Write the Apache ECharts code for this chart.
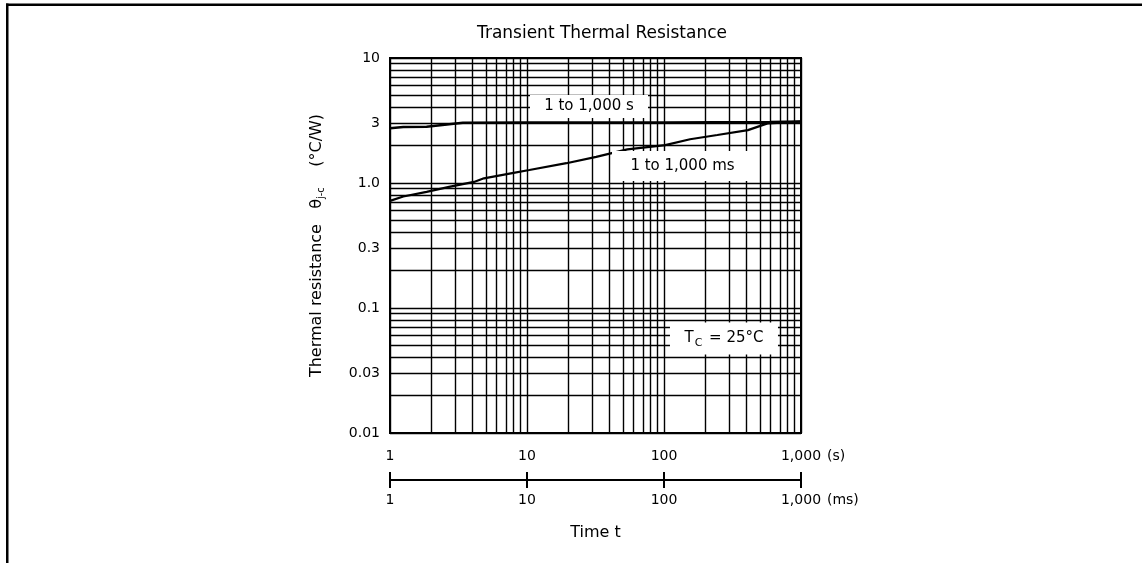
<!DOCTYPE html>
<html>
<head>
<meta charset="utf-8">
<script src="https://cdn.jsdelivr.net/npm/echarts@6/dist/echarts.min.js"></script>
<style>
html,body{margin:0;padding:0;background:#fff;}
#chart{width:1142px;height:563px;}
</style>
</head>
<body>
<div id="chart"></div>
<script>
// ---- data ----
const xTickValues = [1, 10, 100, 1000];
const xTickLabels = ['1', '10', '100', '1,000'];
const yTickValues = [0.01, 0.03, 0.1, 0.3, 1, 3, 10];
const yTickLabels = ['0.01', '0.03', '0.1', '0.3', '1.0', '3', '10'];

// curve "1 to 1,000 s" (time in s on the upper scale)
const timeS = [1, 1.25, 1.85, 3.4, 10, 100, 600, 1000];
const rthS  = [2.74, 2.8, 2.82, 3.04, 3.05, 3.05, 3.08, 3.1];

// curve "1 to 1,000 ms"
const timeMs = [1, 1.25, 1.85, 2.7, 4.1, 4.85, 7.8, 10.4, 19.4, 32, 54, 102, 155, 245, 410, 570, 1000];
const rthMs  = [0.72, 0.78, 0.85, 0.93, 1.02, 1.09, 1.2, 1.27, 1.44, 1.62, 1.86, 2.01, 2.24, 2.42, 2.65, 3.0, 3.1];

const FONT = 'DejaVu Sans, Liberation Sans, Arial, sans-serif';

// log grid line values (1..9 per decade)
function logGrid(lo, hi) {
  const out = [];
  for (let d = lo; d < hi; d *= 10) {
    for (let k = 1; k <= 9; k++) out.push(+(k * d).toPrecision(6));
  }
  out.push(hi);
  return out;
}
const gridX = logGrid(1, 1000);
const gridY = logGrid(0.01, 10);

function tickIndex(list, v) {
  return list.findIndex(t => Math.abs(t - v) / t < 1e-6);
}

const gridLineItems = [];
gridX.forEach(v => gridLineItems.push({ xAxis: v }));
gridY.forEach(v => {
  const i = tickIndex(yTickValues, v);
  if (i >= 0) {
    gridLineItems.push({
      yAxis: v,
      label: { show: true, position: 'start', distance: 10, formatter: yTickLabels[i],
               fontSize: 14, color: '#000', fontFamily: FONT, padding: [4, 0, 0, 0] }
    });
  } else {
    gridLineItems.push({ yAxis: v });
  }
});

function pairs(xs, ys) { return xs.map((x, i) => [x, ys[i]]); }
function xLabel(v) {
  const i = tickIndex(xTickValues, v);
  return i >= 0 ? xTickLabels[i] : '';
}

const chart = echarts.init(document.getElementById('chart'), null, { renderer: 'canvas' });

const option = {
  backgroundColor: '#fff',
  animation: false,
  textStyle: { fontFamily: FONT, color: '#000' },
  title: {
    text: 'Transient Thermal Resistance',
    left: 597, top: 20, textAlign: 'center',
    textStyle: { fontSize: 17, fontWeight: 'normal', color: '#000', fontFamily: FONT }
  },
  graphic: [
    { type: 'rect', shape: { x: 6, y: 3.5, width: 1136, height: 2.5 }, style: { fill: '#000' } },
    { type: 'rect', shape: { x: 6, y: 3.5, width: 2.5, height: 560 }, style: { fill: '#000' } }
  ],
  grid: {
    left: 390, top: 58, width: 411, height: 375,
    show: true, borderColor: '#000', borderWidth: 2, backgroundColor: 'transparent',
    containLabel: false, outerBoundsMode: 'none'
  },
  xAxis: [
    {
      type: 'log', logBase: 10, min: 1, max: 1000, position: 'bottom',
      axisLine: { show: true, lineStyle: { color: '#000', width: 2 } },
      axisTick: { show: false }, splitLine: { show: false }, minorTick: { show: false },
      axisLabel: { margin: 16, fontSize: 14, color: '#000', fontFamily: FONT, formatter: xLabel },
      name: '(s)', nameLocation: 'end', nameGap: 18,
      nameTextStyle: { fontSize: 14, color: '#000', fontFamily: FONT, verticalAlign: 'top', padding: [16, 0, 0, 0] }
    },
    {
      type: 'log', logBase: 10, min: 1, max: 1000, position: 'bottom', offset: 47,
      axisLine: { show: true, lineStyle: { color: '#000', width: 2 } },
      axisTick: { show: true, inside: false, length: 8, lineStyle: { color: '#000', width: 2 } },
      splitLine: { show: false }, minorTick: { show: false },
      axisLabel: { margin: 13, fontSize: 14, color: '#000', fontFamily: FONT, formatter: xLabel },
      name: '(ms)', nameLocation: 'end', nameGap: 12,
      nameTextStyle: { fontSize: 14, color: '#000', fontFamily: FONT, verticalAlign: 'top', padding: [13, 0, 0, 0] }
    },
    {
      type: 'log', logBase: 10, min: 1, max: 1000, position: 'bottom', offset: 47,
      axisLine: { show: false },
      axisTick: { show: true, inside: true, length: 8, lineStyle: { color: '#000', width: 2 } },
      splitLine: { show: false }, minorTick: { show: false },
      axisLabel: { show: false },
      name: 'Time t', nameLocation: 'middle', nameGap: 45,
      nameTextStyle: { fontSize: 16, color: '#000', fontFamily: FONT }
    }
  ],
  yAxis: {
    type: 'log', logBase: 10, min: 0.01, max: 10,
    axisLine: { show: true, lineStyle: { color: '#000', width: 2 } },
    axisTick: { show: false }, splitLine: { show: false }, minorTick: { show: false },
    axisLabel: { show: false },
    name: '{a|Thermal resistance   θ}{s|j-c}{a|    (°C/W)}',
    nameLocation: 'middle', nameGap: 64,
    nameTextStyle: {
      color: '#000', fontFamily: FONT,
      rich: {
        a: { fontSize: 16, color: '#000', fontFamily: FONT },
        s: { fontSize: 10, color: '#000', fontFamily: FONT, padding: [9, 0, 0, 0] }
      }
    }
  },
  series: [
    {
      name: 'grid', type: 'line', data: [], z: 1, silent: true,
      markLine: {
        silent: true, z: 1, animation: false,
        symbol: ['none', 'none'],
        label: { show: false },
        lineStyle: { color: '#000', width: 1.4, type: 'solid' },
        emphasis: { disabled: true },
        data: gridLineItems
      }
    },
    {
      name: '1 to 1,000 s', type: 'line', xAxisIndex: 0, yAxisIndex: 0, z: 3,
      data: pairs(timeS, rthS), showSymbol: false, symbol: 'none', silent: true,
      lineStyle: { color: '#000', width: 2.5 },
      markPoint: {
        z: 4, silent: true, animation: false,
        symbol: 'rect',
        itemStyle: { color: '#fff', borderWidth: 0 },
        data: [
          { coord: [28.35, 4.09], symbolSize: [118, 23],
            label: { show: true, position: 'inside', formatter: '1 to 1,000 s', fontSize: 15, color: '#000', fontFamily: FONT } },
          { coord: [274, 0.057], symbolSize: [108, 32],
            label: { show: true, position: 'inside', formatter: '{a|T}{s|C}{a| = 25°C}', color: '#000',
              rich: {
                a: { fontSize: 15, color: '#000', fontFamily: FONT },
                s: { fontSize: 11, color: '#000', fontFamily: FONT, padding: [10, 2, 0, 1] }
              } } }
        ]
      }
    },
    {
      name: '1 to 1,000 ms', type: 'line', xAxisIndex: 0, yAxisIndex: 0, z: 3,
      data: pairs(timeMs, rthMs), showSymbol: false, symbol: 'none', silent: true,
      lineStyle: { color: '#000', width: 2.2 },
      markPoint: {
        z: 4, silent: true, animation: false,
        symbol: 'rect',
        itemStyle: { color: '#fff', borderWidth: 0 },
        data: [
          { coord: [136.5, 1.368], symbolSize: [141, 30],
            label: { show: true, position: 'inside', formatter: '1 to 1,000 ms', fontSize: 15, color: '#000', fontFamily: FONT } }
        ]
      }
    }
  ]
};

chart.setOption(option);
</script>
</body>
</html>
